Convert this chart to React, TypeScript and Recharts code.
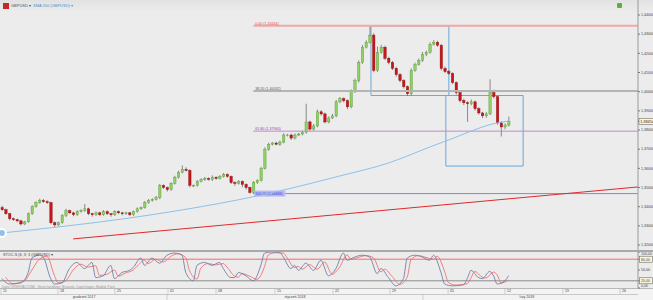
import React from 'react';
import { ComposedChart, Bar, Line, XAxis, YAxis, ReferenceLine, ReferenceArea } from 'recharts';

// ---------- DATA ----------
const firstOpen = 1.3395;
const closes = [
  1.3384, 1.3363, 1.3337, 1.3332, 1.3326, 1.3310, 1.3321, 1.3363, 1.3400, 1.3421,
  1.3432, 1.3426, 1.3421, 1.3316, 1.3305, 1.3316, 1.3353, 1.3379, 1.3368, 1.3358,
  1.3374, 1.3379, 1.3389, 1.3363, 1.3358, 1.3368, 1.3358, 1.3374, 1.3363, 1.3358,
  1.3374, 1.3368, 1.3363, 1.3368, 1.3358, 1.3374, 1.3389, 1.3395, 1.3421, 1.3432,
  1.3437, 1.3447, 1.3511, 1.3500, 1.3489, 1.3521, 1.3553, 1.3579, 1.3595, 1.3589,
  1.3511, 1.3511, 1.3532, 1.3542, 1.3547, 1.3542, 1.3553, 1.3547, 1.3558, 1.3568,
  1.3558, 1.3526, 1.3521, 1.3532, 1.3516, 1.3500, 1.3474, 1.3526, 1.3537, 1.3600,
  1.3700, 1.3726, 1.3732, 1.3726, 1.3737, 1.3774, 1.3774, 1.3758, 1.3774, 1.3779,
  1.3789, 1.3842, 1.3805, 1.3821, 1.3895, 1.3884, 1.3842, 1.3863, 1.3874, 1.3947,
  1.3963, 1.3953, 1.3921, 1.4000, 1.4058, 1.4153, 1.4232, 1.4258, 1.4295, 1.4111,
  1.4205, 1.4232, 1.4174, 1.4153, 1.4121, 1.4089, 1.4058, 1.4026, 1.3989, 1.4111,
  1.4142, 1.4163, 1.4195, 1.4205, 1.4247, 1.4258, 1.4242, 1.4121, 1.4105, 1.4095,
  1.4047, 1.3995, 1.3953, 1.3942, 1.3937, 1.3947, 1.3911, 1.3889, 1.3874, 1.3884,
  1.3995, 1.3974, 1.3837, 1.3816, 1.3826, 1.3845,
];
// wick lengths in pips
const wickUp = [
  10, 6, 5, 6, 5, 6, 5, 6, 8, 7,
  10, 8, 7, 5, 6, 6, 8, 10, 6, 5,
  7, 8, 25, 6, 5, 7, 6, 8, 6, 5,
  7, 6, 5, 6, 5, 6, 7, 6, 8, 8,
  7, 9, 8, 6, 5, 7, 8, 9, 20, 10,
  6, 5, 7, 6, 8, 6, 10, 6, 7, 8,
  6, 5, 6, 7, 5, 6, 5, 8, 6, 8,
  10, 8, 6, 7, 8, 9, 6, 7, 8, 6,
  8, 95, 7, 10, 12, 8, 7, 8, 10, 10,
  9, 8, 7, 12, 10, 10, 12, 10, 48, 10,
  30, 12, 8, 8, 7, 9, 8, 7, 6, 10,
  9, 10, 12, 9, 10, 12, 8, 7, 10, 8,
  6, 7, 8, 10, 8, 12, 7, 8, 6, 10,
  70, 15, 8, 10, 9, 25,
];
const wickDown = [
  6, 5, 8, 6, 7, 8, 6, 5, 6, 5,
  6, 5, 6, 8, 12, 6, 5, 7, 6, 8,
  6, 5, 6, 7, 10, 6, 7, 5, 6, 10,
  6, 7, 8, 6, 7, 6, 5, 6, 5, 6,
  6, 5, 8, 7, 10, 6, 5, 6, 5, 6,
  10, 8, 6, 5, 7, 6, 8, 6, 5, 6,
  7, 8, 12, 6, 15, 10, 6, 8, 7, 6,
  6, 8, 7, 6, 8, 6, 8, 10, 7, 6,
  7, 8, 10, 8, 7, 9, 8, 7, 6, 8,
  7, 9, 12, 8, 7, 10, 8, 7, 6, 10,
  8, 7, 9, 10, 8, 10, 9, 10, 12, 8,
  7, 6, 8, 10, 7, 6, 8, 10, 8, 7,
  8, 10, 9, 12, 95, 8, 10, 9, 12, 10,
  6, 10, 10, 50, 12, 8,
];
const smaPoints: [number, number][] = [
  [0, 1.3263], [34, 1.3341], [48, 1.3383], [68, 1.3456], [90, 1.3560],
  [103, 1.3628], [114, 1.3711], [119, 1.3748], [132, 1.3837], [135, 1.3847],
];
const stochKPoints: [number, number][] = [
  [0, 26], [2, 11], [5, 14], [7, 43], [8, 83], [10, 91], [11, 86], [13, 26], [14, 11], [16, 14],
  [18, 54], [20, 71], [22, 54], [24, 71], [25, 29], [27, 34], [29, 63], [30, 26], [32, 43], [34, 49],
  [35, 57], [37, 83], [38, 63], [40, 83], [42, 69], [44, 91], [46, 97], [48, 91], [49, 43], [51, 20],
  [52, 63], [54, 71], [56, 63], [58, 71], [59, 54], [61, 29], [62, 29], [63, 43], [65, 34], [67, 20],
  [69, 63], [70, 97], [72, 100], [74, 99], [75, 86], [77, 54], [78, 63], [79, 49], [81, 69], [83, 49],
  [85, 77], [87, 34], [88, 40], [89, 54], [91, 97], [92, 77], [94, 86], [96, 91], [98, 86], [100, 40],
  [101, 54], [103, 29], [105, 6], [107, 26], [108, 83], [110, 91], [112, 86], [114, 77], [115, 91], [117, 43],
  [118, 11], [120, 6], [123, 9], [124, 26], [125, 49], [127, 29], [128, 26], [130, 46], [131, 34], [132, 11],
  [134, 20], [135, 34],
];
const stochDPoints: [number, number][] = [
  [1, 30], [3, 12], [6, 20], [8, 50], [10, 80], [12, 88], [14, 35], [15, 14], [17, 20], [19, 50],
  [21, 66], [23, 58], [25, 62], [26, 35], [28, 38], [30, 50], [31, 33], [33, 42], [35, 50], [36, 60],
  [38, 77], [39, 68], [41, 80], [43, 72], [45, 88], [47, 95], [49, 84], [50, 48], [52, 25], [53, 55],
  [55, 68], [57, 64], [59, 68], [60, 58], [62, 33], [63, 30], [64, 40], [66, 33], [68, 24], [70, 60],
  [71, 92], [73, 98], [75, 97], [76, 84], [78, 57], [79, 60], [80, 52], [82, 65], [84, 52], [86, 72],
  [88, 38], [89, 45], [90, 58], [92, 92], [93, 80], [95, 85], [97, 90], [99, 84], [101, 45], [102, 52],
  [104, 32], [106, 10], [108, 30], [109, 78], [111, 90], [113, 85], [115, 80], [116, 88], [118, 45], [119, 15],
  [121, 8], [124, 12], [125, 28], [126, 46], [128, 30], [129, 28], [131, 44], [132, 36], [133, 14], [135, 22],
];
const weekTicks = [-0.23, 14.95, 30.14, 44.26, 57.05, 72.77, 88.23, 103.4, 118.9, 134.06, 149.5, 164.7];
const weekLabels = ['11', '18', '25', '01', '08', '15', '22', '29', '05', '12', '19', '26'];
const monthCenters = [21.9, 78.1, 139.9];
const monthLabels = ['grudzień 2017', 'styczeń 2018', 'luty 2018'];
const monthBounds = [44.0, 112.2];
const priceTicks = [1.32, 1.33, 1.34, 1.35, 1.36, 1.37, 1.38, 1.39, 1.40, 1.41, 1.42, 1.43, 1.44];
const lastPrice = 1.38454;
const oscTicks = [0, 20, 50, 80, 100];
const fibNames = ['0,00', '38,20', '61,80', '100,00'];
const fibPrices = [1.43434, 1.40032, 1.3794, 1.34684];
const fibStart = 67;
const trendStart = { idx: 19, price: 1.3232 };
const trendEnd = { idx: 169.5, price: 1.3503 };
const boxes = [
  { x1: 98.35, x2: 119.1, y1: 1.43426, y2: 1.3980 },
  { x1: 118.3, x2: 138.9, y1: 1.3980, y2: 1.3612 },
];

// ---------- build table ----------
const smaMap = new Map(smaPoints);
const kMap = new Map(stochKPoints);
const dMap = new Map(stochDPoints);
const data = closes.map((c, i) => {
  const o = i === 0 ? firstOpen : closes[i - 1];
  const high = Math.max(o, c) + wickUp[i] / 10000;
  const low = Math.min(o, c) - wickDown[i] / 10000;
  return {
    idx: i, open: o, close: c, high, low, range: [low, high],
    sma: smaMap.has(i) ? smaMap.get(i) : null,
    k: kMap.has(i) ? kMap.get(i) : null,
    d: dMap.has(i) ? dMap.get(i) : null,
  };
});

const FONT = '"Liberation Sans", Arial, sans-serif';
const X_DOMAIN: [number, number] = [-0.5, 169.5];
const fibColors = ['#f0a8a8', '#b4b4b4', '#c586cf', '#8484f0'];
const fibWidths = [2, 2, 1, 1];

const fmt5 = (v: number) => v.toFixed(5).replace('.', ',');
const fmt2 = (v: number) => v.toFixed(2).replace('.', ',');

const Candle = (props: any) => {
  const { x, y, width, height, payload } = props;
  if (!payload || x == null) return null;
  const { open, close, high, low } = payload;
  const top = Math.min(y, y + height);
  const h = Math.abs(height);
  const ppu = h / (high - low);
  const cx = x + width / 2;
  const bTop = top + (high - Math.max(open, close)) * ppu;
  const bBot = top + (high - Math.min(open, close)) * ppu;
  const up = close >= open;
  return (
    <g>
      <line x1={cx} x2={cx} y1={top} y2={top + h} stroke="#707070" strokeWidth={0.8} />
      <rect x={x} y={bTop} width={width} height={Math.max(bBot - bTop, 0.8)}
        fill={up ? '#8fd062' : '#c9151a'} stroke={up ? '#5c9a3c' : '#8c0c0c'} strokeWidth={0.4} />
    </g>
  );
};

const PriceTick = (props: any) => {
  const { x, y, payload } = props;
  const v = payload.value;
  if (Math.abs(v - lastPrice) < 1e-6) {
    return (
      <g>
        <rect x={x - 2} y={y - 3} width={15} height={6} fill="#fbf6dc" stroke="#555" strokeWidth={0.5} />
        <text x={x - 0.8} y={y + 1.4} fontSize={3.8} fill="#222" fontFamily={FONT}>{fmt5(v)}</text>
      </g>
    );
  }
  return <text x={x} y={y + 1.3} fontSize={3.6} fill="#444" fontFamily={FONT}>{fmt5(v)}</text>;
};

const OscTick = (props: any) => {
  const { x, y, payload } = props;
  const v = payload.value;
  const boxed = v === 20 || v === 80;
  const dy = v === 100 ? 2.8 : v === 0 ? -0.6 : 1.3;
  return (
    <g>
      {boxed && <rect x={x - 1.5} y={y - 3} width={13} height={6} fill="#fbf6dc" stroke="#555" strokeWidth={0.5} />}
      <text x={x} y={y + dy} fontSize={3.6} fill="#444" fontFamily={FONT}>{fmt2(v)}</text>
    </g>
  );
};

const DayTick = (props: any) => {
  const { x, y, payload } = props;
  const i = weekTicks.findIndex((t) => Math.abs(t - payload.value) < 0.01);
  return (
    <g>
      <line x1={x} x2={x} y1={y} y2={y + 6} stroke="#b5b5b5" strokeWidth={0.6} />
      <text x={x + 2} y={y + 4.4} fontSize={3.6} fill="#444" fontFamily={FONT}>{weekLabels[i]}</text>
    </g>
  );
};

const MonthTick = (props: any) => {
  const { x, y, payload } = props;
  const bi = monthBounds.findIndex((t) => Math.abs(t - payload.value) < 0.01);
  if (bi >= 0) {
    return <line x1={x} x2={x} y1={y} y2={y + 6} stroke="#b5b5b5" strokeWidth={0.6} />;
  }
  const ci = monthCenters.findIndex((t) => Math.abs(t - payload.value) < 0.01);
  return (
    <text x={x} y={y + 4.3} fontSize={3.6} fill="#444" textAnchor="middle" fontFamily={FONT}>{monthLabels[ci]}</text>
  );
};

const fibLabel = (i: number) => (props: any) => {
  const vb = props.viewBox || {};
  const text = `${fibNames[i]} (${fmt5(fibPrices[i])})`;
  if (i === 3) {
    return (
      <g>
        <rect x={vb.x + 1} y={vb.y - 3} width={31} height={6} fill="#b9b9f5" />
        <text x={vb.x + 2} y={vb.y + 1.4} fontSize={3.6} fill="#3a3ad0" fontFamily={FONT}>{text}</text>
      </g>
    );
  }
  const col = i === 0 ? '#e05050' : i === 1 ? '#555' : '#9a3aa8';
  return <text x={vb.x + 2} y={vb.y - 1} fontSize={3.6} fill={col} fontFamily={FONT}>{text}</text>;
};

const MainChart = () => (
  <ComposedChart width={653} height={250} data={data} margin={{ top: 0, right: 0, bottom: 0, left: 0 }}>
    <XAxis type="number" dataKey="idx" domain={X_DOMAIN} hide allowDataOverflow />
    <YAxis orientation="right" width={15} domain={[1.31741, 1.44782]} allowDataOverflow
      ticks={[...priceTicks, lastPrice]} interval={0} tick={<PriceTick />}
      tickSize={2} tickMargin={1} axisLine={{ stroke: '#9a9a9a' }} tickLine={{ stroke: '#777' }} />
    {fibPrices.map((p, i) => (
      <ReferenceLine key={i} segment={[{ x: fibStart, y: p }, { x: X_DOMAIN[1], y: p }]}
        stroke={fibColors[i]} strokeWidth={fibWidths[i]} label={fibLabel(i)} ifOverflow="visible" />
    ))}
    <ReferenceLine segment={[{ x: trendStart.idx, y: trendStart.price }, { x: trendEnd.idx, y: trendEnd.price }]}
      stroke="#e02a2a" strokeWidth={1} ifOverflow="visible" />
    {boxes.map((b, i) => (
      <ReferenceArea key={i} x1={b.x1} x2={b.x2} y1={b.y1} y2={b.y2} fill="none" fillOpacity={0}
        stroke="#68a8dc" strokeWidth={1} strokeOpacity={1} ifOverflow="visible" />
    ))}
    <Line dataKey="sma" stroke="#8ec0ea" strokeWidth={1} dot={false} connectNulls isAnimationActive={false} type="monotone" />
    <Bar dataKey="range" barSize={2.4} shape={<Candle />} isAnimationActive={false} />
  </ComposedChart>
);

const OscChart = () => (
  <ComposedChart width={653} height={48} data={data} margin={{ top: 0, right: 0, bottom: 0, left: 0 }}>
    <XAxis type="number" dataKey="idx" domain={X_DOMAIN} allowDataOverflow ticks={weekTicks} interval={0}
      tick={<DayTick />} height={6} tickSize={0} tickMargin={0} axisLine={false} tickLine={false} />
    <XAxis xAxisId="m" type="number" dataKey="idx" domain={X_DOMAIN} allowDataOverflow
      ticks={[...monthCenters, ...monthBounds].sort((a, b) => a - b)} interval={0}
      tick={<MonthTick />} height={6} tickSize={0} tickMargin={0} axisLine={false} tickLine={false} />
    <YAxis orientation="right" width={15} domain={[0, 100]} ticks={oscTicks} interval={0} tick={<OscTick />}
      tickSize={2} tickMargin={1} axisLine={{ stroke: '#9a9a9a' }} tickLine={{ stroke: '#777' }} />
    <ReferenceLine y={80} stroke="#f06a6a" strokeWidth={1} />
    <ReferenceLine y={20} stroke="#8c8c8c" strokeWidth={1} />
    <Line dataKey="d" stroke="#f07070" strokeWidth={0.9} dot={false} connectNulls isAnimationActive={false} type="monotone" />
    <Line dataKey="k" stroke="#6f7fa8" strokeWidth={0.9} dot={false} connectNulls isAnimationActive={false} type="monotone" />
  </ComposedChart>
);

export default function App() {
  return (
    <div style={{ position: 'absolute', left: 0, top: 0, width: 653, height: 300, background: '#ececec', overflow: 'hidden', fontFamily: FONT }}>
      <div style={{ position: 'absolute', left: 0, top: 0, width: 653, height: 12, background: 'linear-gradient(#e2e2e2, #ececec)' }} />
      <div style={{ position: 'absolute', left: 0, top: 288, width: 653, height: 12, background: '#f3f3f3', borderTop: '1px solid #b8b8b8' }} />
      <div style={{ position: 'absolute', left: 0, top: 294, width: 638, height: 1, background: '#c8c8c8' }} />
      <div style={{ position: 'absolute', left: 0, top: 250, width: 653, height: 2, background: '#a9a9a9' }} />
      <div style={{ position: 'absolute', left: 0, top: 0 }}><MainChart /></div>
      <div style={{ position: 'absolute', left: 0, top: 252 }}><OscChart /></div>
      <div style={{ position: 'absolute', left: 3, top: 3, width: 6, height: 6, background: '#c0282c' }} />
      <div style={{ position: 'absolute', left: 11, top: 3, fontSize: 4, lineHeight: '6px', color: '#555', whiteSpace: 'nowrap' }}>GBPUSD ▾</div>
      <div style={{ position: 'absolute', left: 33, top: 3, fontSize: 4, lineHeight: '6px', color: '#4a90d0', whiteSpace: 'nowrap' }}>SMA 200 (GBPUSD) ▾</div>
      <div style={{ position: 'absolute', left: 617, top: 3, width: 5, height: 5, background: '#5cb040', borderRadius: 1 }} />
      <div style={{ position: 'absolute', left: 3, top: 253, fontSize: 3.8, lineHeight: '5px', color: '#444', whiteSpace: 'nowrap' }}>STOC-S (6; 3; 3 (GBPUSD) ▾</div>
      <div style={{ position: 'absolute', left: 2, top: 285, fontSize: 3.2, lineHeight: '4px', color: '#999', whiteSpace: 'nowrap' }}>Dane ORIENTACYJNE - Sesje handlowe: Brussels, Copenhagen, Madrid, Paris</div>
    </div>
  );
}
